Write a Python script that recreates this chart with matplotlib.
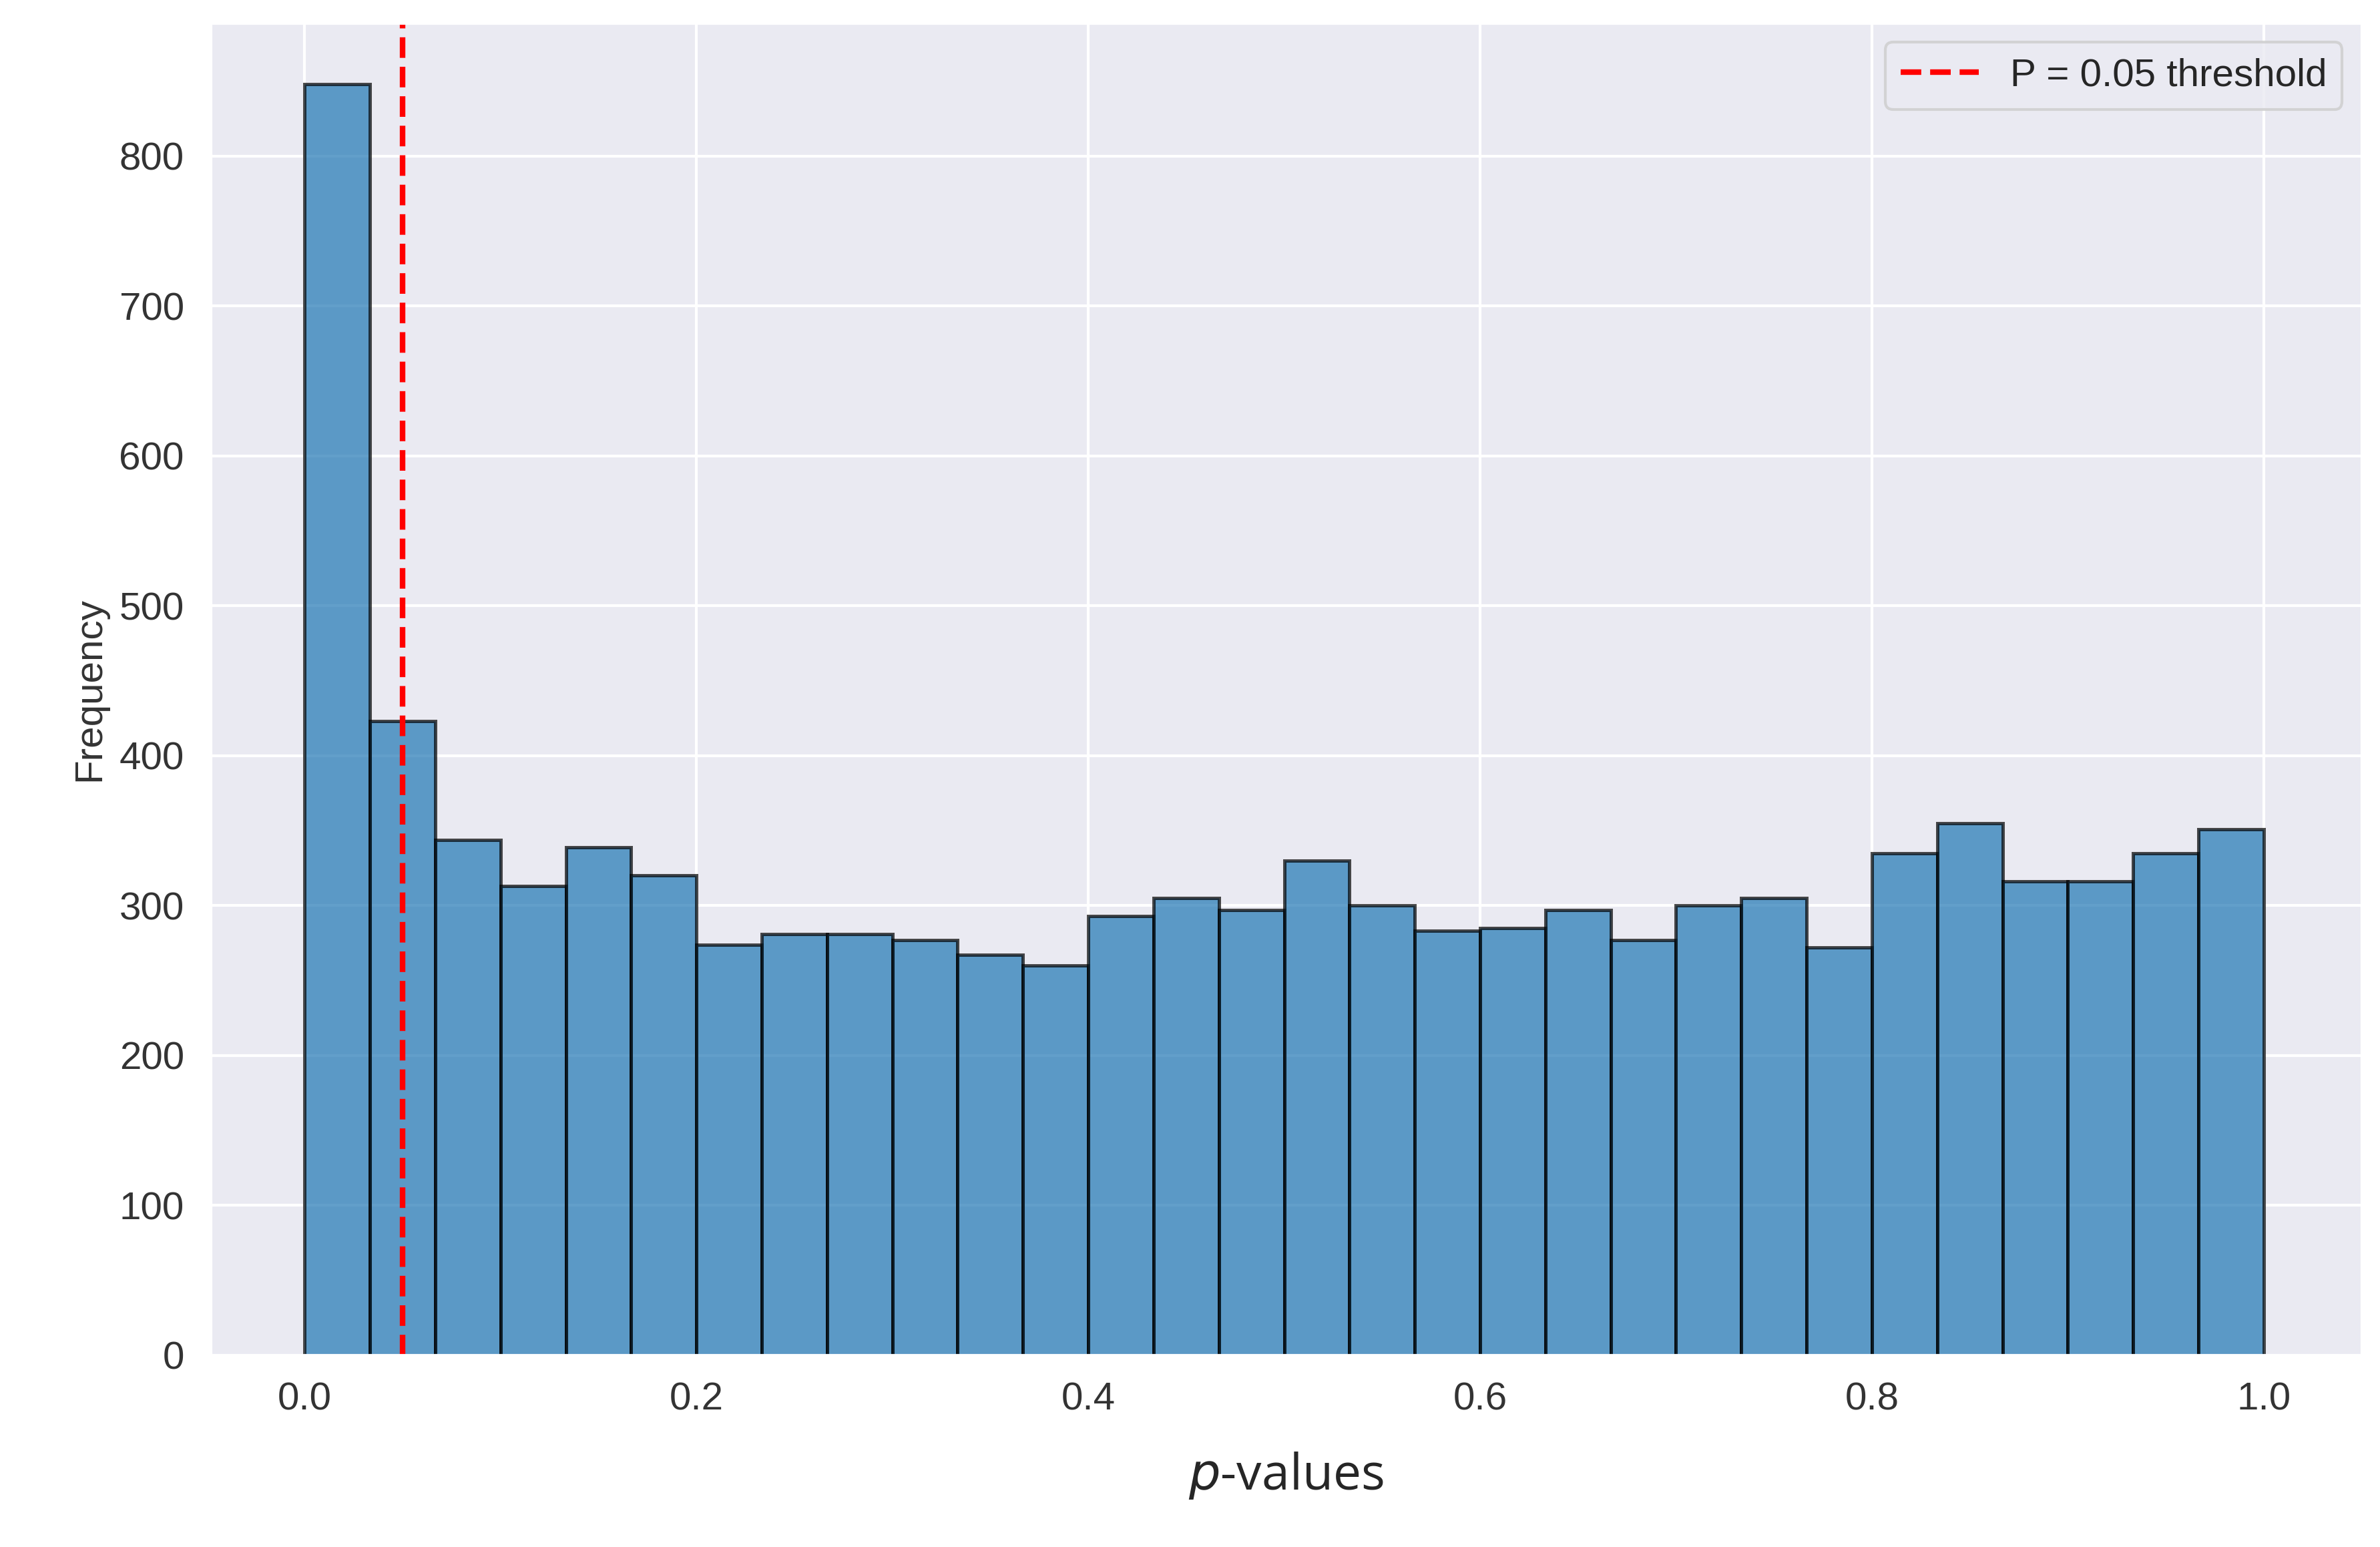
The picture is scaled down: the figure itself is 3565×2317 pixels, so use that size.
import matplotlib
matplotlib.use("Agg")
import matplotlib.pyplot as plt
import numpy as np
import seaborn as sns

sns.set_theme(style="darkgrid")
plt.rcParams["font.family"] = ["Liberation Sans", "DejaVu Sans"]

# histogram of p-values, 30 equal bins over [0, 1]
BIN_EDGES = np.linspace(0, 1, 31)
COUNTS = [848, 423, 344, 313, 339, 320, 274, 281, 281, 277,
          267, 260, 293, 305, 297, 330, 300, 283, 285, 297,
          277, 300, 305, 272, 335, 355, 316, 316, 335, 351]
THRESHOLD = 0.05

fig = plt.figure(figsize=(3565 / 300, 2317 / 300), dpi=300)
ax = fig.add_axes([138 / 1560, 1 - 890 / 1016, 1410 / 1560, 875 / 1016])

widths = np.diff(BIN_EDGES)
ax.bar(BIN_EDGES[:-1], COUNTS, width=widths, align="edge",
       color="tab:blue", alpha=0.7, edgecolor="black", linewidth=1.2)
ax.axvline(THRESHOLD, color="red", linestyle="--", linewidth=2,
           label="P = 0.05 threshold")

ax.set_xlim(-0.048, 1.05)
ax.set_ylim(0, 889)
ax.set_xticks(np.arange(0, 1.01, 0.2))
ax.set_yticks(np.arange(0, 801, 100))
ax.tick_params(labelsize=14, colors="#333333")
ax.set_ylabel("Frequency", fontsize=14, color="#333333")
ax.set_xlabel("$p$-values", fontsize=18, family="Open Sans", labelpad=12)
ax.legend(loc="upper right", fontsize=14, frameon=True)

fig.savefig("out.png", dpi=300)
